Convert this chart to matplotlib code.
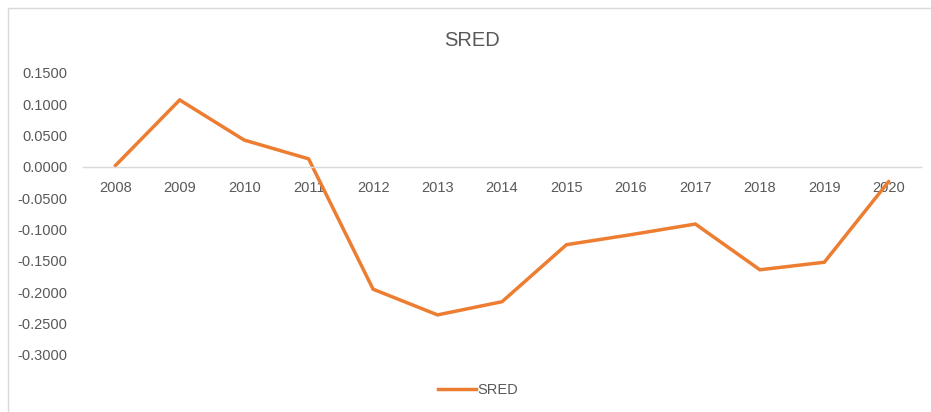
import matplotlib
matplotlib.use("Agg")
import matplotlib.pyplot as plt
from matplotlib.patches import Rectangle
from matplotlib.lines import Line2D

years = ["2008", "2009", "2010", "2011", "2012", "2013", "2014",
         "2015", "2016", "2017", "2018", "2019", "2020"]
sred = [0.002, 0.107, 0.043, 0.013, -0.195, -0.236, -0.215,
        -0.124, -0.108, -0.091, -0.164, -0.152, -0.023]
y_ticks = [0.15, 0.10, 0.05, 0.0, -0.05, -0.10, -0.15, -0.20, -0.25, -0.30]

plt.rcParams['font.family'] = ['Liberation Sans', 'DejaVu Sans']
W, H = 931, 412
fig = plt.figure(figsize=(W / 100, H / 100), dpi=100)
fig.patch.set_facecolor("white")

# chart border
fig.patches.append(Rectangle((8 / W, -0.1), 1.2, (H - 8) / H + 0.1,
                             transform=fig.transFigure, fill=False,
                             edgecolor="#d9d9d9", linewidth=1.0))

ax = fig.add_axes([83 / W, 57 / H, (921 - 83) / W, (355 - 73) / H])
x = list(range(len(years)))
ax.plot(x, sred, color="#ED7D31", linewidth=2.5, solid_capstyle="round",
        solid_joinstyle="miter")
ax.set_xlim(-0.5, len(years) - 0.5)
ax.set_ylim(-0.30, 0.15)
ax.set_yticks(y_ticks)
ax.set_yticklabels([f"{v:.4f}" for v in y_ticks])
ax.tick_params(axis="y", length=0, pad=11, labelsize=10.5, labelcolor="#595959")
ax.set_xticks(x)
ax.set_xticklabels(years)
ax.tick_params(axis="x", length=0, pad=10, labelsize=10.5, labelcolor="#595959")
for s in ["top", "right", "left"]:
    ax.spines[s].set_visible(False)
ax.spines["bottom"].set_position(("data", 0))
ax.spines["bottom"].set_color("#d9d9d9")
ax.spines["bottom"].set_linewidth(1.0)
ax.set_facecolor("none")
ax.set_zorder(2)

fig.text(472 / W, 1 - 40 / H, "SRED", ha="center", va="center",
         fontsize=14.5, color="#595959")

handle = Line2D([], [], color="#ED7D31", linewidth=2.5)
fig.legend([handle], ["SRED"], loc="center", bbox_to_anchor=(478 / W, 1 - 390 / H),
           frameon=False, fontsize=10.5, labelcolor="#595959",
           handlelength=2.6, handletextpad=0.1)

fig.savefig("out.png", dpi=100)
